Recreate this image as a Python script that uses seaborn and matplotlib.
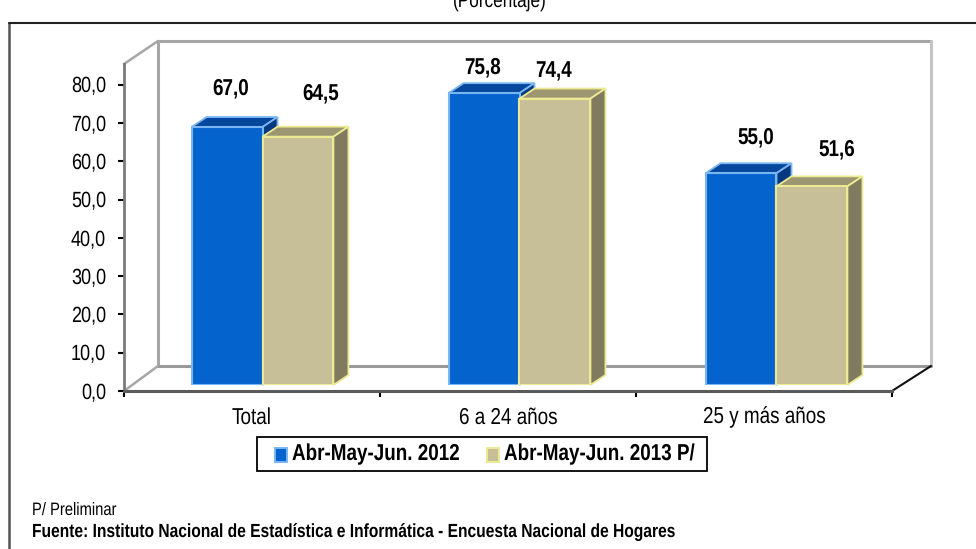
import pandas as pd
import matplotlib
matplotlib.use("Agg")
import matplotlib.pyplot as plt
import seaborn as sns
from matplotlib.patches import Polygon, Rectangle
from matplotlib.lines import Line2D
from matplotlib.font_manager import fontManager, findfont, FontProperties
from fontTools.ttLib import TTFont

categories = ["Total", "6 a 24 años", "25 y más años"]
series_names = ["Abr-May-Jun. 2012", "Abr-May-Jun. 2013 P/"]
values_2012 = [67.0, 75.8, 55.0]
values_2013 = [64.5, 74.4, 51.6]
y_ticks = [0, 10, 20, 30, 40, 50, 60, 70, 80]

W, H = 976, 549
FILL = ["#0563cd", "#c6bf98"]
EDGE = ["#7ab6f2", "#ecea92"]
TOP = ["#04479c", "#9c9672"]
SIDE = ["#04397f", "#807b5f"]


# no Arial Narrow here, so squeeze Liberation Sans into a local copy
def make_narrow(weight, factor=0.82):
    src = findfont(FontProperties(family="Liberation Sans", weight=weight))
    font = TTFont(src)
    glyf, hmtx = font["glyf"], font["hmtx"]
    for name in font.getGlyphOrder():
        g = glyf[name]
        if g.isComposite():
            for c in g.components:
                c.x = round(c.x * factor)
        elif g.numberOfContours > 0:
            g.coordinates.scale((factor, 1))
            g.coordinates.toInt()
        adv, lsb = hmtx[name]
        hmtx[name] = (round(adv * factor), round(lsb * factor))
    for rec in font["name"].names:
        if rec.nameID in (1, 16):
            rec.string = "Narrow Sans"
    path = "narrow_%s.ttf" % weight
    font.save(path)
    fontManager.addfont(path)


sns.set_style("white")
plt.rcParams["font.family"] = ["Liberation Sans", "DejaVu Sans"]
make_narrow("normal")
make_narrow("bold")
plt.rcParams["font.family"] = ["Narrow Sans", "Liberation Sans", "DejaVu Sans"]
plt.rcParams["text.color"] = "black"
plt.rcParams["ytick.labelcolor"] = "black"
plt.rcParams["text.hinting"] = "no_hinting"
plt.rcParams["text.hinting_factor"] = 1

df = pd.DataFrame({
    "cat": categories * 2,
    "serie": [series_names[0]] * 3 + [series_names[1]] * 3,
    "val": values_2012 + values_2013,
})

fig = plt.figure(figsize=(W / 100, H / 100), dpi=100)


def box(left, top, right, bottom):
    return [left / W, 1 - bottom / H, (right - left) / W, (bottom - top) / H]


def fig_line(points, color, lw, zorder=0):
    xs = [x / W for x, y in points]
    ys = [1 - y / H for x, y in points]
    fig.add_artist(Line2D(xs, ys, color=color, lw=lw, transform=fig.transFigure, zorder=zorder))


def fig_rect(x, y, w, h, **kw):
    fig.add_artist(Rectangle((x / W, 1 - (y + h) / H), w / W, h / H, transform=fig.transFigure, **kw))


# page frame, runs off the right and bottom of the picture
fig_line([(9, 549), (9, 23)], "#555555", 1.8)
fig_line([(9, 23), (976, 23)], "#222222", 1.5)

# back wall and floor
fig_line([(158, 366), (158, 41), (931, 41)], "#a6a6a6", 2.2)
fig_line([(931, 41), (931, 366)], "#c4c4c4", 2.2)
fig_line([(158, 366), (931, 366)], "#999999", 2.2)
fig_line([(124, 64), (158, 41)], "#a6a6a6", 1.8)
fig_line([(124, 391), (158, 366)], "#a6a6a6", 1.8)
fig_line([(892, 391), (931, 366)], "#111111", 1.5)

# front plane, carries the ticks
ax = fig.add_axes(box(124, 64, 892, 391))
ax.set_xlim(-0.5, 2.5)
ax.set_ylim(0, (391 - 64) / 3.83)
ax.patch.set_alpha(0)
for s in ["top", "right"]:
    ax.spines[s].set_visible(False)
ax.spines["left"].set_color("#7a7a7a")
ax.spines["bottom"].set_color("#5a5a5a")
ax.spines["left"].set_linewidth(2)
ax.spines["bottom"].set_linewidth(2.2)
ax.set_yticks(y_ticks)
ax.set_yticklabels([("%.1f" % v).replace(".", ",") for v in y_ticks], fontsize=15.5)
ax.set_xticks([-0.5, 0.5, 1.5, 2.5])
ax.set_xticklabels([])
ax.tick_params(axis="both", length=4, width=1.5, color="black", left=True, bottom=True)
ax.tick_params(axis="y", pad=9)
for i, c in enumerate(categories):
    ax.annotate(c, (i, 0), xytext=(0, -26.5 * 0.72), textcoords="offset points", ha="center", va="center", fontsize=16.5)

# bars, shifted a little from the front plane
ax2 = fig.add_axes(box(134, 59, 905, 385))
sns.barplot(data=df, x="cat", y="val", hue="serie", order=categories, hue_order=series_names,
            palette=FILL, width=0.552, gap=0, ax=ax2, legend=False, saturation=1, errorbar=None)
ax2.set_xlim(-0.5, 2.5)
ax2.set_ylim(0, (385 - 59) / 3.85)
ax2.axis("off")
ax2.patch.set_alpha(0)

dx = 15 / 257
dy = 10 / 3.85
# label offset from the top centre of each bar, in pixels
label_dx = [[3.5, -1, 15], [23, -1, 25]]
label_dy = [39, 26, 36], [43, 27, 37]
for k, cont in enumerate(ax2.containers):
    for n, bar in enumerate(cont):
        x0, x1 = bar.get_x(), bar.get_x() + bar.get_width()
        h = bar.get_height()
        bar.set_edgecolor(EDGE[k])
        bar.set_linewidth(1.5)
        bar.set_zorder(3 + k * 2)
        ax2.add_patch(Polygon([(x0, h), (x1, h), (x1 + dx, h + dy), (x0 + dx, h + dy)], fc=TOP[k],
                              ec=EDGE[k], lw=1.3, clip_on=False, zorder=2 + k * 2))
        ax2.add_patch(Polygon([(x1, 0), (x1, h), (x1 + dx, h + dy), (x1 + dx, dy)], fc=SIDE[k],
                              ec=EDGE[k], lw=1.3, clip_on=False, zorder=2 + k * 2))
        ax2.annotate(("%.1f" % h).replace(".", ","), ((x0 + x1) / 2, h),
                     xytext=(label_dx[k][n] * 0.72, label_dy[k][n] * 0.72), textcoords="offset points",
                     ha="center", va="center", fontsize=16.5, fontweight="bold", zorder=9)

# legend box
fig_rect(257, 437, 450, 34, fc="white", ec="black", lw=1.3, zorder=5)
for k, (x, name) in enumerate(zip([275, 487], series_names)):
    fig_rect(x, 448, 12, 14, fc=FILL[k], ec=EDGE[k], lw=1.4, zorder=6)
    fig.text((x + 17) / W, 1 - 454.5 / H, name, fontsize=16.6, fontweight="bold", va="center", ha="left", zorder=6)

fig.text(500 / W, 1 - 1 / H, "(Porcentaje)", fontsize=15.3, ha="center", va="center")
fig.text(32 / W, 1 - 510 / H, "P/ Preliminar", fontsize=12.8, va="center", ha="left")
fig.text(32 / W, 1 - 532 / H, "Fuente: Instituto Nacional de Estadística e Informática - Encuesta Nacional de Hogares",
         fontsize=13.85, fontweight="bold", va="center", ha="left")

fig.savefig("out.png", dpi=100)
plt.close()
